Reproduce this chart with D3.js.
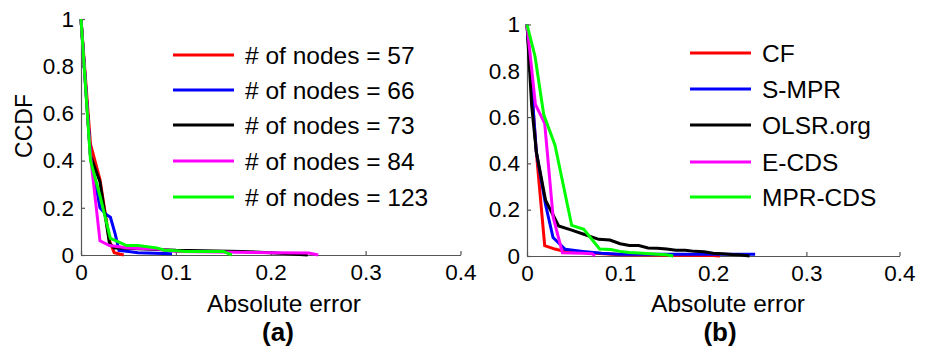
<!DOCTYPE html>
<html><head><meta charset="utf-8">
<script src="https://cdn.jsdelivr.net/npm/d3@7"></script>
<style>body{margin:0;background:#fff}svg{display:block}text{font-family:"Liberation Sans",Arial,sans-serif}</style>
</head><body>
<svg id="c" width="931" height="347"></svg>
<script>
// ---- data ----
const xTicks = [0, 0.1, 0.2, 0.3, 0.4];
const yTicks = [0, 0.2, 0.4, 0.6, 0.8, 1];
const yTickLabels = ["0", "0.2", "0.4", "0.6", "0.8", "1"];
const xTickLabels = ["0", "0.1", "0.2", "0.3", "0.4"];
const colors = ["#ff0000", "#0000ff", "#000000", "#ff00ff", "#00ff00"];

const namesA = ["# of nodes = 57", "# of nodes = 66", "# of nodes = 73", "# of nodes = 84", "# of nodes = 123"];
const nodes57 = [[0,1],[0.01,0.47],[0.02,0.32],[0.03,0.06],[0.035,0.01],[0.045,0]];
const nodes66 = [[0,1],[0.01,0.42],[0.02,0.2],[0.027,0.17],[0.031,0.16],[0.036,0.09],[0.04,0.02],[0.05,0.015],[0.06,0.01],[0.096,0.005]];
const nodes73 = [[0,1],[0.01,0.42],[0.02,0.31],[0.03,0.05],[0.035,0.03],[0.04,0.03],[0.1,0.02],[0.17,0.015],[0.2,0.01],[0.239,0]];
const nodes84 = [[0,1],[0.01,0.42],[0.02,0.06],[0.03,0.04],[0.05,0.03],[0.08,0.025],[0.1,0.015],[0.2,0.01],[0.24,0.008],[0.25,0]];
const nodes123 = [[0,1],[0.01,0.40],[0.02,0.25],[0.031,0.07],[0.04,0.055],[0.048,0.04],[0.06,0.04],[0.07,0.035],[0.08,0.03],[0.088,0.02],[0.1,0.018],[0.11,0.015],[0.15,0.015],[0.159,0]];

const namesB = ["CF", "S-MPR", "OLSR.org", "E-CDS", "MPR-CDS"];
const cf = [[0,1],[0.01,0.45],[0.019,0.045],[0.03,0.03],[0.04,0.02],[0.1,0.005],[0.2,0.002],[0.207,0]];
const smpr = [[0,1],[0.01,0.45],[0.02,0.22],[0.028,0.08],[0.041,0.029],[0.06,0.02],[0.08,0.012],[0.1,0.008],[0.245,0.008]];
const olsr = [[0,1],[0.005,0.65],[0.01,0.45],[0.02,0.24],[0.034,0.13],[0.048,0.112],[0.061,0.094],[0.077,0.072],[0.089,0.069],[0.1,0.053],[0.11,0.045],[0.12,0.045],[0.13,0.035],[0.14,0.033],[0.15,0.03],[0.16,0.025],[0.17,0.025],[0.18,0.02],[0.19,0.018],[0.2,0.012],[0.21,0.01],[0.22,0.006],[0.23,0.004],[0.239,0]];
const ecds = [[0,1],[0.009,0.655],[0.019,0.573],[0.028,0.17],[0.038,0.014],[0.06,0.012],[0.07,0.01],[0.073,0]];
const mprcds = [[0,1],[0.0086,0.863],[0.018,0.61],[0.03,0.48],[0.048,0.132],[0.061,0.115],[0.078,0.03],[0.09,0.028],[0.1,0.02],[0.11,0.015],[0.12,0.013],[0.14,0.008],[0.15,0.005],[0.157,0]];

const seriesA = [nodes57, nodes66, nodes73, nodes84, nodes123];
const seriesB = [cf, smpr, olsr, ecds, mprcds];

// ---- drawing ----
const svg = d3.select("#c");
const font = '"Liberation Sans",Arial,sans-serif';

function panel(cfg) {
  const x = d3.scaleLinear().domain([0, 0.4]).range([cfg.x0, cfg.x1]);
  const y = d3.scaleLinear().domain([0, 1]).range([cfg.y0, cfg.y1]);
  const g = svg.append("g");

  const xa = g.append("g").attr("transform", `translate(0,${cfg.y0})`)
    .call(d3.axisBottom(x).tickValues(xTicks).tickFormat((d, i) => xTickLabels[i])
      .tickSizeInner(-4).tickSizeOuter(0).tickPadding(9));
  const ya = g.append("g").attr("transform", `translate(${cfg.x0},0)`)
    .call(d3.axisLeft(y).tickValues(yTicks).tickFormat((d, i) => yTickLabels[i])
      .tickSizeInner(-4).tickSizeOuter(0).tickPadding(7));
  [xa, ya].forEach(a => {
    a.selectAll("path.domain").attr("stroke", "#555").attr("stroke-width", 1.2);
    a.selectAll(".tick line").attr("stroke", "#555").attr("stroke-width", 1.2);
    a.selectAll("text").attr("font-size", 22.5).attr("fill", "#000").attr("font-family", font);
  });

  const line = d3.line().x(d => x(d[0])).y(d => y(d[1]));
  cfg.series.forEach((s, i) => {
    g.append("path").datum(s).attr("d", line)
      .attr("fill", "none").attr("stroke", colors[i]).attr("stroke-width", 3)
      .attr("stroke-linejoin", "miter");
  });

  // legend
  cfg.names.forEach((n, i) => {
    const ly = cfg.legY[i];
    g.append("line").attr("x1", cfg.legX).attr("x2", cfg.legX + 61)
      .attr("y1", ly).attr("y2", ly).attr("stroke", colors[i]).attr("stroke-width", 3);
    g.append("text").attr("x", cfg.legX + 72).attr("y", ly).attr("dy", "0.35em")
      .attr("font-size", 24.5).attr("fill", "#000").text(n);
  });

  g.append("text").attr("x", cfg.xlabX).attr("y", 312).attr("text-anchor", "middle")
    .attr("font-size", 24.5).attr("fill", "#000").text("Absolute error");
  g.append("text").attr("x", cfg.subX).attr("y", 341).attr("text-anchor", "middle")
    .attr("font-size", 26).attr("font-weight", "bold").attr("fill", "#000").text(cfg.sub);
  if (cfg.ylab) {
    g.append("text").attr("transform", `translate(32,126) rotate(-90)`)
      .attr("text-anchor", "middle").attr("font-size", 23).attr("fill", "#000").text(cfg.ylab);
  }
}

panel({x0: 81, x1: 460.5, y0: 255, y1: 19, series: seriesA, names: namesA,
  legX: 173, legY: [55, 90, 125, 161, 197], xlabX: 284, subX: 278, sub: "(a)", ylab: "CCDF"});
panel({x0: 527, x1: 899.5, y0: 256, y1: 24.5, series: seriesB, names: namesB,
  legX: 690, legY: [53, 89, 125, 162, 197], xlabX: 728, subX: 720, sub: "(b)"});
</script>
</body></html>
